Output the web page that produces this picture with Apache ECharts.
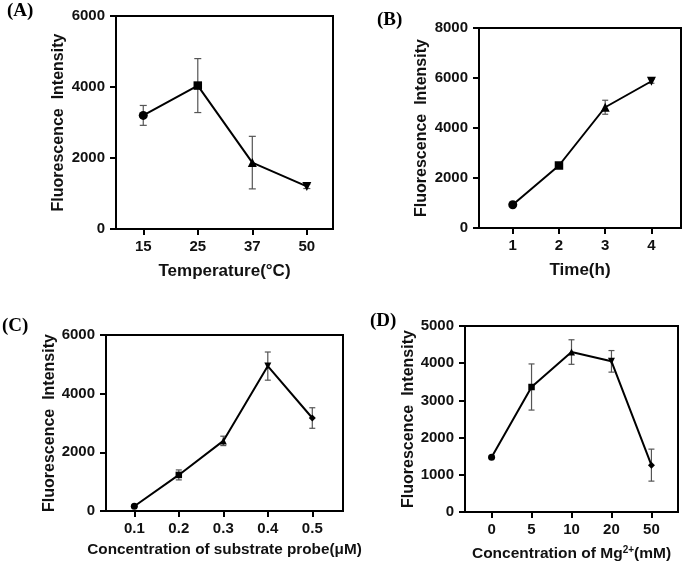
<!DOCTYPE html>
<html>
<head>
<meta charset="utf-8">
<script src="https://cdn.jsdelivr.net/npm/echarts@6/dist/echarts.min.js"></script>
<style>html,body{margin:0;padding:0;background:#fff}#c{width:685px;height:566px}</style>
</head>
<body>
<div id="c"></div>
<script>
// ---- Data ----
var catA = ['15', '25', '37', '50'];
var valA = [3200, 4040, 1870, 1200];
var errA = [280, 760, 740, 60];

var catB = ['1', '2', '3', '4'];
var valB = [930, 2500, 4830, 5870];
var errB = [40, 50, 280, 80];

var catC = ['0.1', '0.2', '0.3', '0.4', '0.5'];
var valC = [160, 1230, 2390, 4940, 3170];
var errC = [30, 170, 160, 480, 350];

var catD = ['0', '5', '10', '20', '50'];
var valD = [1470, 3360, 4300, 4050, 1260];
var errD = [30, 620, 330, 290, 430];

var ticksA = [0, 2000, 4000, 6000];
var ticksB = [0, 2000, 4000, 6000, 8000];
var ticksC = [0, 2000, 4000, 6000];
var ticksD = [0, 1000, 2000, 3000, 4000, 5000];

var markers = ['circle', 'rect', 'triangle', 'down', 'diamond'];

var FONT = 'Liberation Sans';
var chart = echarts.init(document.getElementById('c'), null, {renderer: 'canvas'});

var panels = [
  {cat: catA, val: valA, err: errA, ticks: ticksA, grid: {left: 116, top: 16, width: 217, height: 213}, xmin: -0.5, xmax: 3.48,
   xname: 'Temperature(°C)', xgap: 34, ygap: 49, sym: 9, cap: 3.5, xfs: 17},
  {cat: catB, val: valB, err: errB, ticks: ticksB, grid: {left: 479, top: 28, width: 202, height: 200}, xmin: -0.73, xmax: 3.64,
   xname: 'Time(h)', xgap: 33.5, ygap: 49, sym: 9, cap: 3, xfs: 17},
  {cat: catC, val: valC, err: errC, ticks: ticksC, grid: {left: 106, top: 335, width: 237, height: 176}, xmin: -0.636, xmax: 4.69,
   xname: 'Concentration of substrate probe(μM)', xgap: 31.5, ygap: 46.5, sym: 7, cap: 3, xfs: 15.3},
  {cat: catD, val: valD, err: errD, ticks: ticksD, grid: {left: 465, top: 326, width: 213, height: 186}, xmin: -0.665, xmax: 4.665,
   xname: '{a|Concentration of Mg}{b|2+}{a|(mM)}', xgap: 33, ygap: 47, sym: 7, cap: 3, xfs: 15.5}
];

var grids = [], xAxes = [], yAxes = [], series = [];
panels.forEach(function (p, k) {
  grids.push(Object.assign({show: true, borderColor: '#000', borderWidth: 2, backgroundColor: 'transparent'}, p.grid));
  var idx = p.cat.map(function (c, i) { return i; });
  xAxes.push({
    gridIndex: k, type: 'value', min: p.xmin, max: p.xmax,
    name: p.xname, nameLocation: 'middle', nameGap: p.xgap,
    nameTextStyle: {fontFamily: FONT, fontWeight: 'bold', fontSize: p.xfs, color: '#111',
      rich: {a: {fontFamily: FONT, fontWeight: 'bold', fontSize: 15.5, color: '#111', lineHeight: 18},
             b: {fontFamily: FONT, fontWeight: 'bold', fontSize: 10, color: '#111', verticalAlign: 'top', lineHeight: 10}}},
    axisLine: {show: true, onZero: false, lineStyle: {color: '#000', width: 2}},
    axisTick: {show: true, length: 6, lineStyle: {color: '#000', width: 2}, customValues: idx},
    axisLabel: {customValues: idx, margin: 10, fontFamily: FONT, fontWeight: 'bold', fontSize: 15, color: '#111',
      formatter: function (v) { return p.cat[Math.round(v)]; }},
    splitLine: {show: false}
  });
  yAxes.push({
    gridIndex: k, type: 'value', min: p.ticks[0], max: p.ticks[p.ticks.length - 1], interval: p.ticks[1] - p.ticks[0],
    name: 'Fluorescence  Intensity', nameLocation: 'middle', nameGap: p.ygap,
    nameTextStyle: {fontFamily: FONT, fontWeight: 'bold', fontSize: 16, color: '#111'},
    axisLine: {show: true, onZero: false, lineStyle: {color: '#000', width: 2}},
    axisTick: {show: true, length: 6, lineStyle: {color: '#000', width: 2}},
    axisLabel: {margin: 11, fontFamily: FONT, fontWeight: 'bold', fontSize: 15, color: '#111',
      formatter: function (v) { return String(v); }},
    splitLine: {show: false}
  });
  var errData = p.val.map(function (v, i) { return [i, v - p.err[i], v + p.err[i]]; });
  series.push({
    type: 'custom', xAxisIndex: k, yAxisIndex: k, z: 1, silent: true,
    data: errData,
    renderItem: function (params, api) {
      var x = api.value(0), lo = api.value(1), hi = api.value(2);
      var a = api.coord([x, lo]), b = api.coord([x, hi]);
      var w = p.cap;
      var st = {stroke: '#555', lineWidth: 1.2};
      return {type: 'group', children: [
        {type: 'line', shape: {x1: a[0], y1: a[1], x2: b[0], y2: b[1]}, style: st},
        {type: 'line', shape: {x1: a[0] - w, y1: a[1], x2: a[0] + w, y2: a[1]}, style: st},
        {type: 'line', shape: {x1: b[0] - w, y1: b[1], x2: b[0] + w, y2: b[1]}, style: st}
      ]};
    }
  });
  series.push({
    type: 'line', xAxisIndex: k, yAxisIndex: k, z: 3, silent: true,
    lineStyle: {color: '#000', width: 2},
    itemStyle: {color: '#000'},
    symbolSize: p.sym,
    data: p.val.map(function (v, i) {
      var m = markers[i];
      var item = {value: [i, v], symbol: m === 'down' ? 'triangle' : m};
      if (m === 'down') item.symbolRotate = 180;
      if (m === 'rect') item.symbolSize = p.sym - 0.5;
      return item;
    })
  });
});

function label(t, x, y) {
  return {type: 'text', x: x, y: y, style: {text: t, font: 'bold 19px "Liberation Serif"', fill: '#000', textVerticalAlign: 'middle'}};
}

chart.setOption({
  animation: false,
  grid: grids, xAxis: xAxes, yAxis: yAxes, series: series,
  graphic: [label('(A)', 7, 11), label('(B)', 377, 20), label('(C)', 2, 326), label('(D)', 370, 321)]
});
</script>
</body>
</html>
